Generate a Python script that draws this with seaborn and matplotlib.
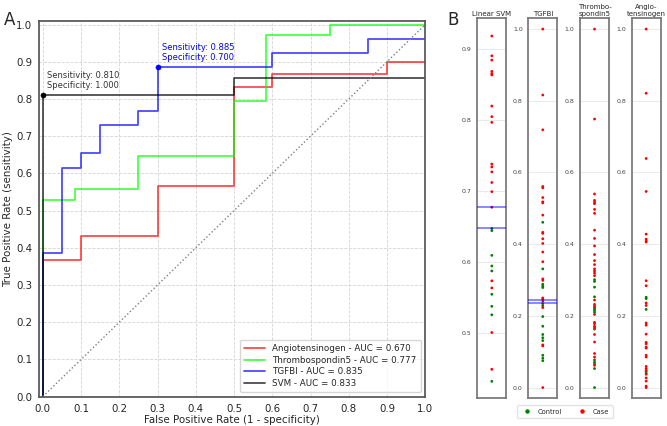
import pandas as pd
import matplotlib.pyplot as plt
from matplotlib.lines import Line2D
import seaborn as sns

sns.set_theme(style="white")
plt.rcParams["font.family"] = ["DejaVu Sans"]

# ── ROC curves (step vertices: fpr, tpr) ─────────────────────────────────────
angio_fpr = [0.0, 0.0, 0.1, 0.3, 0.5, 0.6, 0.9, 1.0]
angio_tpr = [0.0, 0.367, 0.433, 0.567, 0.833, 0.867, 0.900, 0.900]
thrombo_fpr = [0.0, 0.0, 0.083, 0.25, 0.5, 0.583, 0.75, 1.0]
thrombo_tpr = [0.0, 0.529, 0.559, 0.647, 0.794, 0.971, 1.0, 1.0]
tgfbi_fpr = [0.0, 0.0, 0.05, 0.1, 0.15, 0.25, 0.3, 0.6, 0.85, 1.0]
tgfbi_tpr = [0.0, 0.385, 0.615, 0.654, 0.731, 0.769, 0.885, 0.923, 0.962, 0.962]
svm_fpr = [0.0, 0.0, 0.5, 1.0]
svm_tpr = [0.0, 0.810, 0.857, 0.857]

roc_names = ["Angiotensinogen", "Thrombospondin5", "TGFBI", "SVM"]
roc_auc = [0.670, 0.777, 0.835, 0.833]
roc_colors = ["red", "lime", "blue", "black"]

# best operating points (fpr, tpr)
svm_best = (0.0, 0.810)
tgfbi_best = (0.3, 0.885)

# ── Strip plot scores ────────────────────────────────────────────────────────
svm_case = [0.919, 0.891, 0.885, 0.869, 0.866, 0.864, 0.820, 0.805, 0.797,
            0.738, 0.734, 0.727, 0.712, 0.699, 0.677, 0.573, 0.563, 0.500, 0.448]
svm_ctrl = [0.647, 0.644, 0.609, 0.594, 0.587, 0.554, 0.537, 0.525, 0.431]
tgfbi_case = [1.0, 0.816, 0.719, 0.561, 0.557, 0.530, 0.518, 0.515, 0.481,
              0.433, 0.430, 0.415, 0.402, 0.378, 0.351, 0.303, 0.299, 0.250,
              0.247, 0.241, 0.223, 0.119, 0.116, 0.0]
tgfbi_ctrl = [0.461, 0.331, 0.288, 0.283, 0.279, 0.234, 0.228, 0.198, 0.171,
              0.148, 0.139, 0.131, 0.090, 0.082, 0.075]
thrombo_case = [1.0, 0.749, 0.540, 0.522, 0.517, 0.513, 0.497, 0.486, 0.439,
                0.416, 0.395, 0.371, 0.354, 0.343, 0.331, 0.325, 0.319, 0.312,
                0.244, 0.232, 0.227, 0.204, 0.182, 0.178, 0.171, 0.167, 0.148,
                0.127, 0.095, 0.085, 0.062]
thrombo_ctrl = [0.301, 0.296, 0.280, 0.253, 0.223, 0.219, 0.215, 0.210, 0.163,
                0.077, 0.071, 0.066, 0.053, 0.0]
angio_case = [1.0, 0.821, 0.639, 0.547, 0.428, 0.414, 0.409, 0.406, 0.298,
              0.284, 0.236, 0.229, 0.180, 0.174, 0.149, 0.126, 0.122, 0.113,
              0.110, 0.090, 0.085, 0.059, 0.053, 0.048, 0.037, 0.027, 0.018,
              0.004, 0.0]
angio_ctrl = [0.252, 0.248, 0.218, 0.045, 0.040]

strip_titles = ["Linear SVM", "TGFBI", "Thrombo-\nspondin5", "Angio-\ntensinogen"]
strip_cases = [svm_case, tgfbi_case, thrombo_case, angio_case]
strip_ctrls = [svm_ctrl, tgfbi_ctrl, thrombo_ctrl, angio_ctrl]
strip_cutoffs = [[0.677, 0.647], [0.244, 0.237], [], []]
strip_ylims = [(0.407, 0.944), (-0.03, 1.03), (-0.03, 1.03), (-0.03, 1.03)]
strip_yticks = [[0.5, 0.6, 0.7, 0.8, 0.9], [0.0, 0.2, 0.4, 0.6, 0.8, 1.0],
                [0.0, 0.2, 0.4, 0.6, 0.8, 1.0], [0.0, 0.2, 0.4, 0.6, 0.8, 1.0]]

group_colors = {"Control": "green", "Case": "red"}

fig = plt.figure(figsize=(6.67, 4.26), dpi=100)

# ── Panel A: ROC ─────────────────────────────────────────────────────────────
ax = fig.add_axes([0.0585, 0.069, 0.579, 0.882])
curves = [(angio_fpr, angio_tpr), (thrombo_fpr, thrombo_tpr),
          (tgfbi_fpr, tgfbi_tpr), (svm_fpr, svm_tpr)]
for (fpr, tpr), name, auc, col in zip(curves, roc_names, roc_auc, roc_colors):
    sns.lineplot(x=fpr, y=tpr, sort=False, estimator=None, drawstyle="steps-post",
                 color=col, alpha=0.7, linewidth=1.3,
                 label=f"{name} - AUC = {auc:.3f}", ax=ax)

sns.lineplot(x=[0, 1], y=[0, 1], color="grey", linestyle=":", linewidth=1,
             ax=ax, legend=False)

for (bx, by), col, tcol in [(svm_best, "black", "#333333"), (tgfbi_best, "blue", "blue")]:
    sns.scatterplot(x=[bx], y=[by], color=col, s=14, edgecolor=col, ax=ax, legend=False)
    ax.annotate(f"Sensitivity: {by:.3f}\nSpecificity: {1 - bx:.3f}", (bx, by),
                xytext=(3, 4), textcoords="offset points", fontsize=6,
                color=tcol, ha="left", va="bottom", linespacing=1.1)

ax.set_xlim(-0.01, 1.0)
ax.set_ylim(0, 1.01)
ax.set_xticks([i / 10 for i in range(11)])
ax.set_yticks([i / 10 for i in range(11)])
ax.tick_params(labelsize=7.4, length=3, color="#555555", pad=2)
ax.grid(True, linestyle="--", color="#d5d5d5", linewidth=0.6)
ax.set_xlabel("False Positive Rate (1 - specificity)", fontsize=7.4, labelpad=1)
ax.set_ylabel("True Positive Rate (sensitivity)", fontsize=7.4, labelpad=2)
for sp in ax.spines.values():
    sp.set_color("#555555")
ax.legend(loc="lower right", fontsize=6.3, frameon=True, edgecolor="#cccccc",
          handlelength=2.4, borderpad=0.5, labelspacing=0.3)
fig.text(0.006, 0.975, "A", fontsize=12, va="top")

# ── Panel B: strip plots ─────────────────────────────────────────────────────
lefts = [0.7156, 0.792, 0.8696, 0.947]
for i, left in enumerate(lefts):
    sax = fig.add_axes([left, 0.065, 0.0435, 0.892])
    scores = pd.DataFrame({
        "score": strip_ctrls[i] + strip_cases[i],
        "group": ["Control"] * len(strip_ctrls[i]) + ["Case"] * len(strip_cases[i]),
    })
    sns.stripplot(data=scores, y="score", hue="group", palette=group_colors,
                  jitter=False, size=2.0, linewidth=0, ax=sax, legend=False)
    for cut in strip_cutoffs[i]:
        sax.axhline(cut, color="blue", alpha=0.5, linewidth=1.3, zorder=3)
    sax.set_ylim(*strip_ylims[i])
    sax.set_yticks(strip_yticks[i])
    sax.set_xlim(-0.5, 0.5)
    sax.set_xticks([])
    sax.set_xlabel("")
    sax.set_ylabel("")
    sax.grid(True, axis="y", color="#e6e6e6", linewidth=0.6)
    sax.tick_params(axis="y", labelsize=4.5, length=3, color="#dddddd",
                    labelcolor="#444444", pad=1)
    for sp in sax.spines.values():
        sp.set_color("#777777")
    sax.set_title(strip_titles[i], fontsize=5, pad=1.5, linespacing=1.15)

fig.text(0.671, 0.975, "B", fontsize=12, va="top")

handles = [Line2D([], [], marker="o", linestyle="", color=group_colors[g],
                  markersize=2.2, label=g) for g in ["Control", "Case"]]
fig.legend(handles=handles, loc="center", bbox_to_anchor=(0.847, 0.034), ncol=2,
           fontsize=4.8, frameon=True, edgecolor="#dddddd", columnspacing=2.0,
           handletextpad=0.6, borderpad=0.5)

plt.savefig("out.png", dpi=100)
plt.close()
print("Saved out.png")
